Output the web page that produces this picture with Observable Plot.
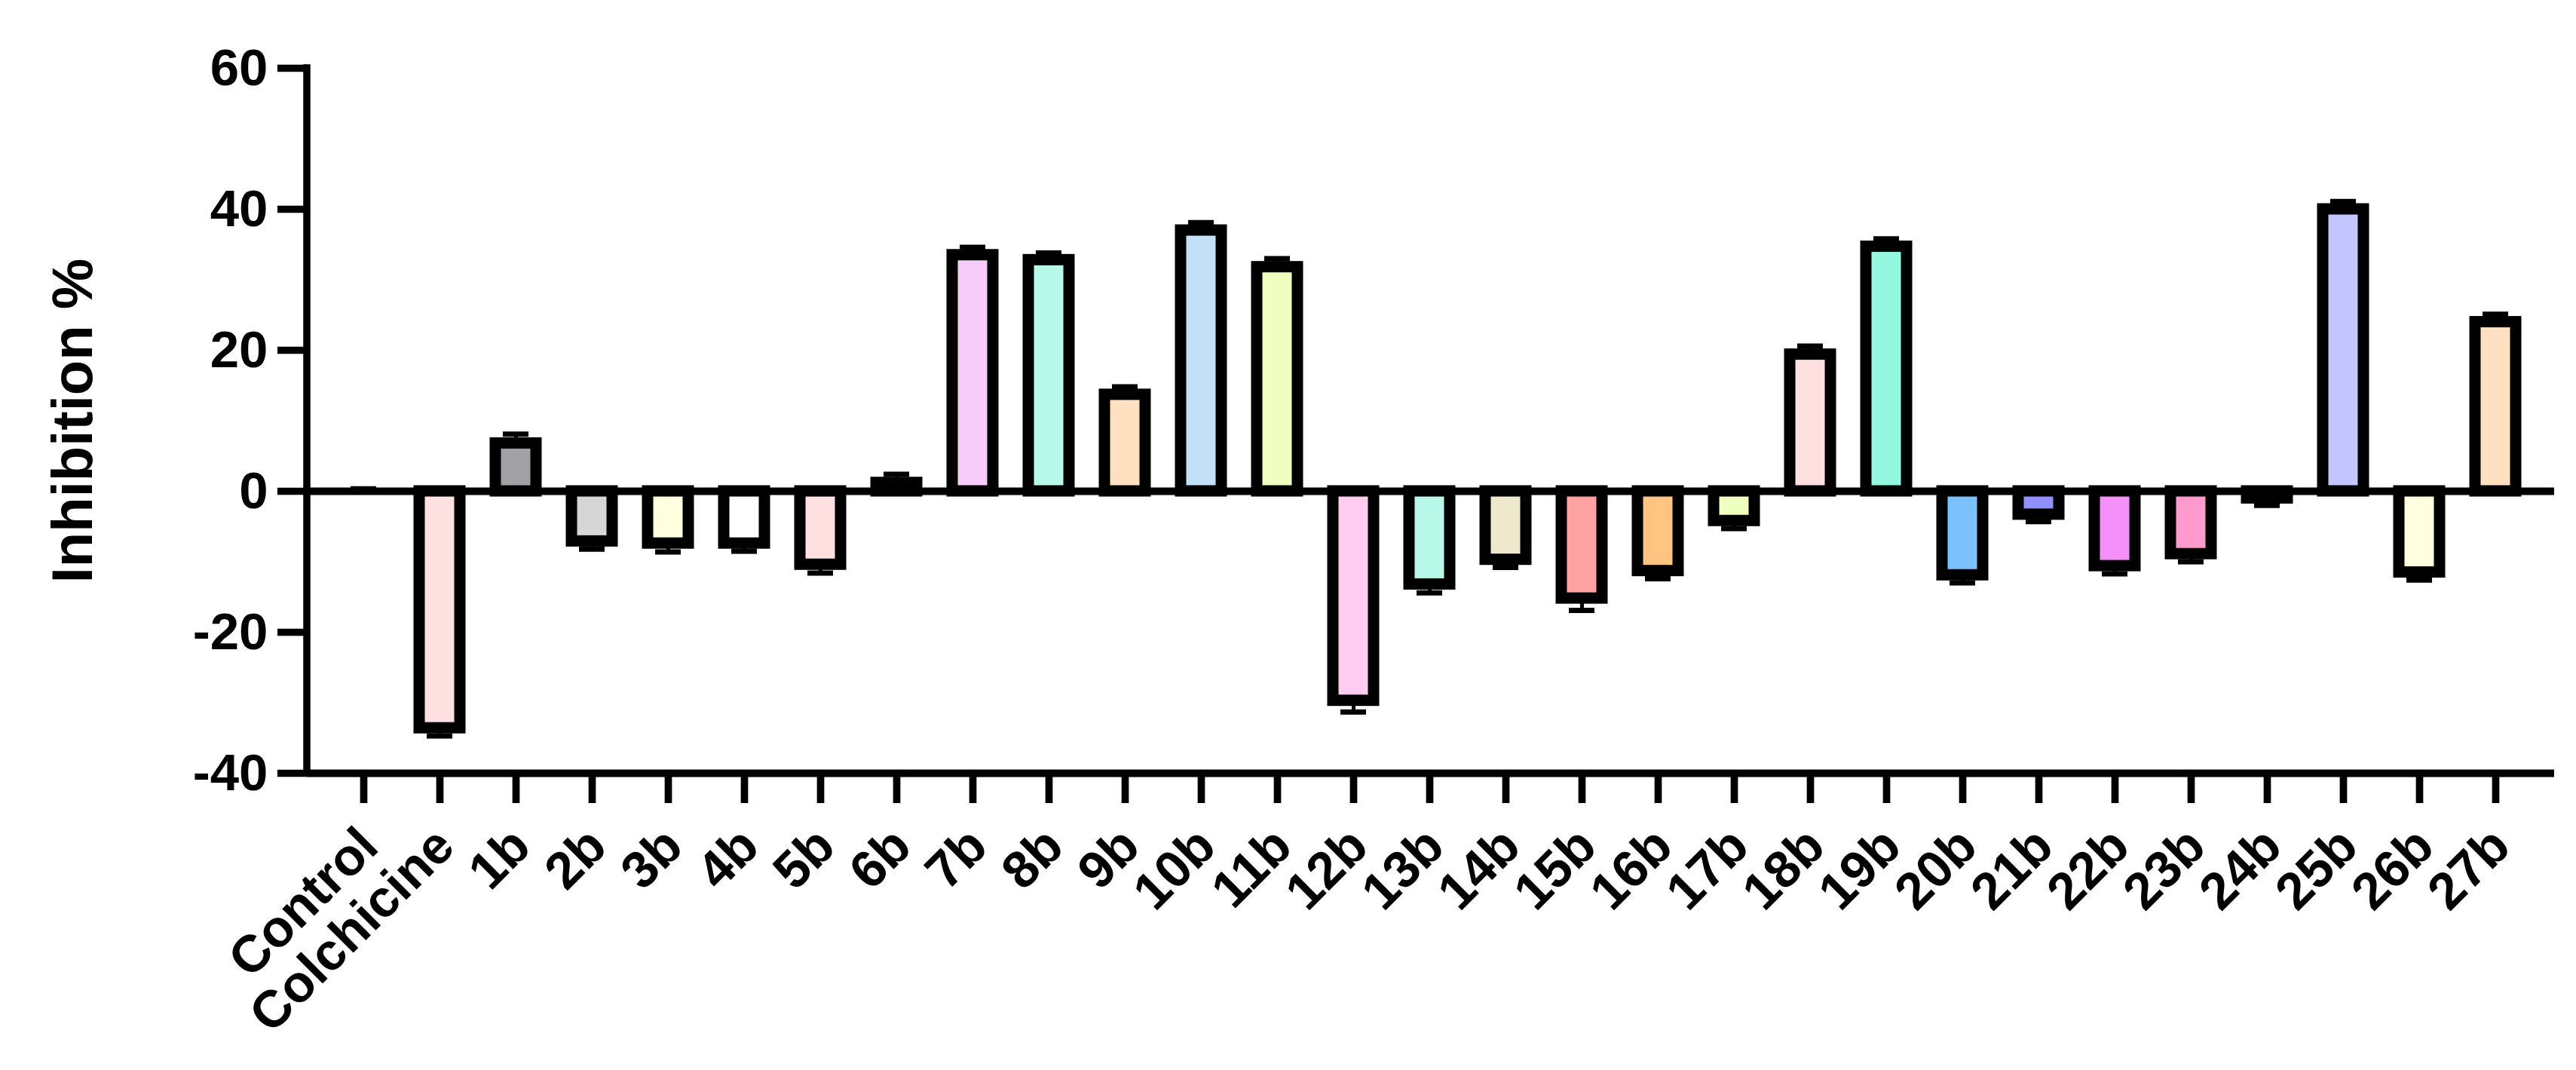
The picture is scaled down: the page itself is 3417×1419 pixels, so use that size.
<!DOCTYPE html>
<html>
<head>
<meta charset="utf-8">
<script src="https://cdn.jsdelivr.net/npm/d3@7"></script>
<script src="https://cdn.jsdelivr.net/npm/@observablehq/plot@0.6"></script>
<style>
  html, body { margin: 0; padding: 0; background: #ffffff; }
  #chart { width: 3417px; height: 1419px; }
</style>
</head>
<body>
<div id="chart"></div>
<script>
// ---- data ----
const categories = ["Control","Colchicine","1b","2b","3b","4b","5b","6b","7b","8b","9b","10b","11b","12b","13b","14b","15b","16b","17b","18b","19b","20b","21b","22b","23b","24b","25b","26b","27b"];
const inhibition = [0, -33.6, 6.8, -7.1, -7.4, -7.4, -10.4, 1.2, 33.5, 32.8, 13.7, 37.0, 31.8, -29.7, -13.2, -9.7, -15.2, -11.3, -4.2, 19.4, 34.7, -11.9, -3.3, -10.6, -8.9, -1.0, 40.0, -11.5, 24.0];
const errors = [0.35, 1.1, 1.3, 1.1, 1.2, 1.1, 1.2, 1.2, 1.1, 1.0, 1.1, 1.1, 1.2, 1.6, 1.2, 1.1, 1.7, 1.1, 1.1, 1.2, 1.1, 1.1, 1.0, 1.1, 1.1, 1.0, 1.1, 1.1, 1.1];
const yTicks = [-40, -20, 0, 20, 40, 60];
const yLabel = "Inhibition %";

// ---- styles ----
const barColors = ["#ffffff","#ffe0e0","#a1a1a5","#d6d6d6","#ffffe0","#ffffff","#ffe0e0","#e0e0e0","#f8ccf8","#b8f8e8","#ffe0c0","#c2e0f8","#f0ffc0","#ffccf0","#b8f8e8","#eee8cc","#ffa2a2","#ffc482","#f0ffc0","#ffe0e0","#94f8e0","#7cc0fc","#9090ff","#f590f8","#ff9acc","#e0e0e0","#c4c4ff","#ffffe0","#ffe0c0"];
const font = "'Liberation Sans', Arial, Helvetica, sans-serif";

const rows = categories.map((name, i) => ({
  name,
  value: inhibition[i],
  err: errors[i],
  color: barColors[i],
  cap: inhibition[i] + (inhibition[i] < 0 ? -1 : 1) * errors[i]
}));

const yAxisLine = (index, scales, values, dimensions) => {
  const y = scales.y;
  return d3.create("svg:line")
    .attr("x1", dimensions.marginLeft).attr("x2", dimensions.marginLeft)
    .attr("y1", y(60) - 4.75).attr("y2", y(-40) + 5)
    .attr("stroke", "black").attr("stroke-width", 9.5)
    .node();
};

const chart = Plot.plot({
  width: 3417,
  height: 1419,
  marginLeft: 407,
  marginRight: 29,
  marginTop: 90,
  marginBottom: 394,
  style: { fontFamily: font, fontWeight: "bold", color: "black", background: "white", overflow: "visible" },
  x: { type: "band", domain: categories, range: [446.5, 3344.5], paddingInner: 0.4685, paddingOuter: 0, label: null },
  y: { domain: [-40, 60], label: null },
  color: { type: "identity" },
  marks: [
    Plot.ruleX(rows, { x: "name", y1: "value", y2: "cap", stroke: "black", strokeWidth: 5 }),
    Plot.tickY(rows, { x: "name", y: "cap", stroke: "black", strokeWidth: 7, insetLeft: 10, insetRight: 10 }),
    Plot.barY(rows, { x: "name", y: "value", fill: "color", stroke: "black", strokeWidth: 15 }),
    Plot.ruleY([0], { stroke: "black", strokeWidth: 10 }),
    Plot.ruleY([-40], { stroke: "black", strokeWidth: 10 }),
    yAxisLine,
    Plot.axisY(yTicks, { tickSize: 39, tickPadding: 13, fontSize: 69, strokeWidth: 9.5, tickFormat: d => String(d), label: null }),
    Plot.axisX({ tickSize: 40, strokeWidth: 9.7, tickFormat: () => "", label: null }),
    Plot.text(categories, { x: d => d, frameAnchor: "bottom", dy: 85, dx: 7, rotate: -45, textAnchor: "end", lineAnchor: "middle", fontSize: 69, fill: "black" }),
    Plot.text([yLabel], { frameAnchor: "left", dx: -310, rotate: -90, textAnchor: "middle", lineAnchor: "middle", fontSize: 76, fill: "black" })
  ]
});

document.getElementById("chart").appendChild(chart);
</script>
</body>
</html>
